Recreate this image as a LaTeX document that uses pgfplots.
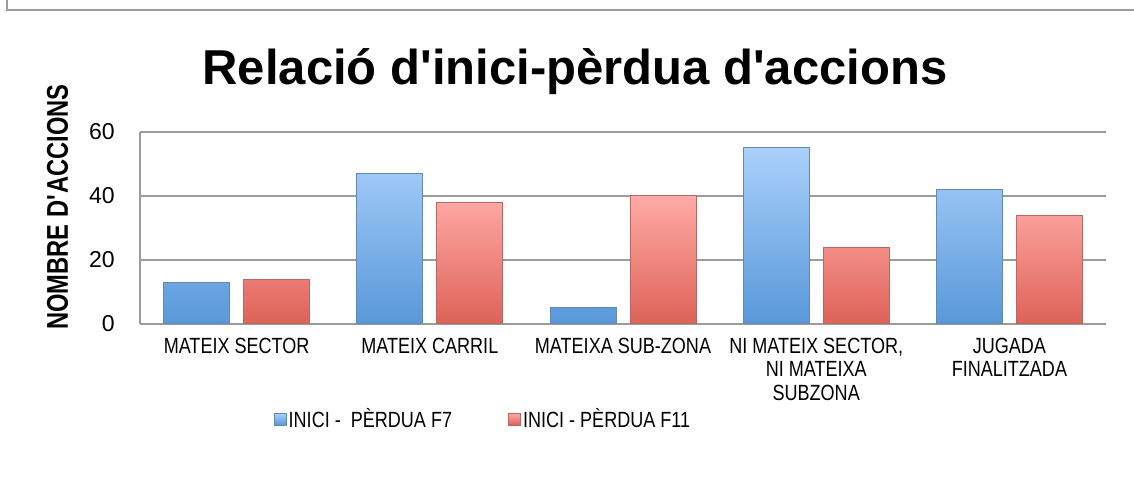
\documentclass[border=0pt]{standalone}
\usepackage{pgfplots}
\pgfplotsset{compat=1.18}
\usepackage{fontspec}
\setmainfont{Liberation Sans}
\newfontfamily\narrowfont[FakeStretch=0.82]{Liberation Sans}
\newfontfamily\narrowbold[FakeStretch=0.79]{Liberation Sans Bold}
\definecolor{bluetop}{RGB}{170,208,250}
\definecolor{bluebot}{RGB}{88,152,218}
\definecolor{blueedge}{RGB}{100,135,180}
\definecolor{redtop}{RGB}{255,170,166}
\definecolor{redbot}{RGB}{222,98,88}
\definecolor{rededge}{RGB}{185,105,100}
\definecolor{gridgray}{RGB}{155,155,155}
\begin{document}
\begin{tikzpicture}
\useasboundingbox (0pt,0pt) rectangle (567pt,240.5pt);
% outer frame (top and left edges visible)
\draw[gridgray,line width=1pt] (3.5pt,240.5pt) -- (3.5pt,235.5pt) -- (567pt,235.5pt);
% title
\node[anchor=base,font=\fontsize{24.5}{28}\selectfont\bfseries] at (287.5pt,198pt) {Relació d\textquotesingle inici-pèrdua d\textquotesingle accions};
% y label
\node[rotate=90,font=\narrowbold\fontsize{15}{18}\selectfont] at (28.75pt,137pt) {NOMBRE D\textquotesingle ACCIONS};
\begin{axis}[
  at={(70pt,78.5pt)}, anchor=south west,
  scale only axis, width=483pt, height=96pt,
  ybar=7pt, bar width=33pt,
  xmin=-0.5, xmax=4.5, ymin=0, ymax=60,
  xtick=data,
  xticklabels={MATEIX SECTOR, MATEIX CARRIL, MATEIXA SUB-ZONA, {NI MATEIX SECTOR,\\NI MATEIXA\\SUBZONA}, {JUGADA\\FINALITZADA}},
  ytick={0,20,40,60},
  axis x line*=bottom, axis y line*=left,
  axis line style={gridgray, line width=0.8pt, -},
  ymajorgrids, grid style={gridgray, line width=0.8pt},
  major tick length=0pt,
  tick style={draw=none},
  /pgf/number format/assume math mode=true,
  yticklabel style={font=\fontsize{11.5}{13}\selectfont, inner sep=0pt, anchor=east, xshift=-12.5pt},
  xticklabel style={font=\narrowfont\fontsize{11}{11.6}\selectfont, align=center, anchor=north, inner sep=0pt, yshift=-7pt},
  legend style={at={(0.355,-0.495)}, anchor=center, draw=none, fill=none,
    font=\narrowfont\fontsize{11}{12}\selectfont, legend columns=2,
    /tikz/every even column/.append style={column sep=27pt},
    nodes={inner sep=1pt}},
  legend image code/.code={\path[#1] (0pt,-3pt) rectangle (6pt,3pt);},
]
\addplot[draw=blueedge, line width=0.5pt, top color=bluetop, bottom color=bluebot] coordinates {(0,13) (1,47) (2,5) (3,55) (4,42)};
\addplot[draw=rededge, line width=0.5pt, top color=redtop, bottom color=redbot] coordinates {(0,14) (1,38) (2,40) (3,24) (4,34)};
\legend{INICI -\ \ PÈRDUA F7, INICI - PÈRDUA F11}
\end{axis}
\end{tikzpicture}
\end{document}
